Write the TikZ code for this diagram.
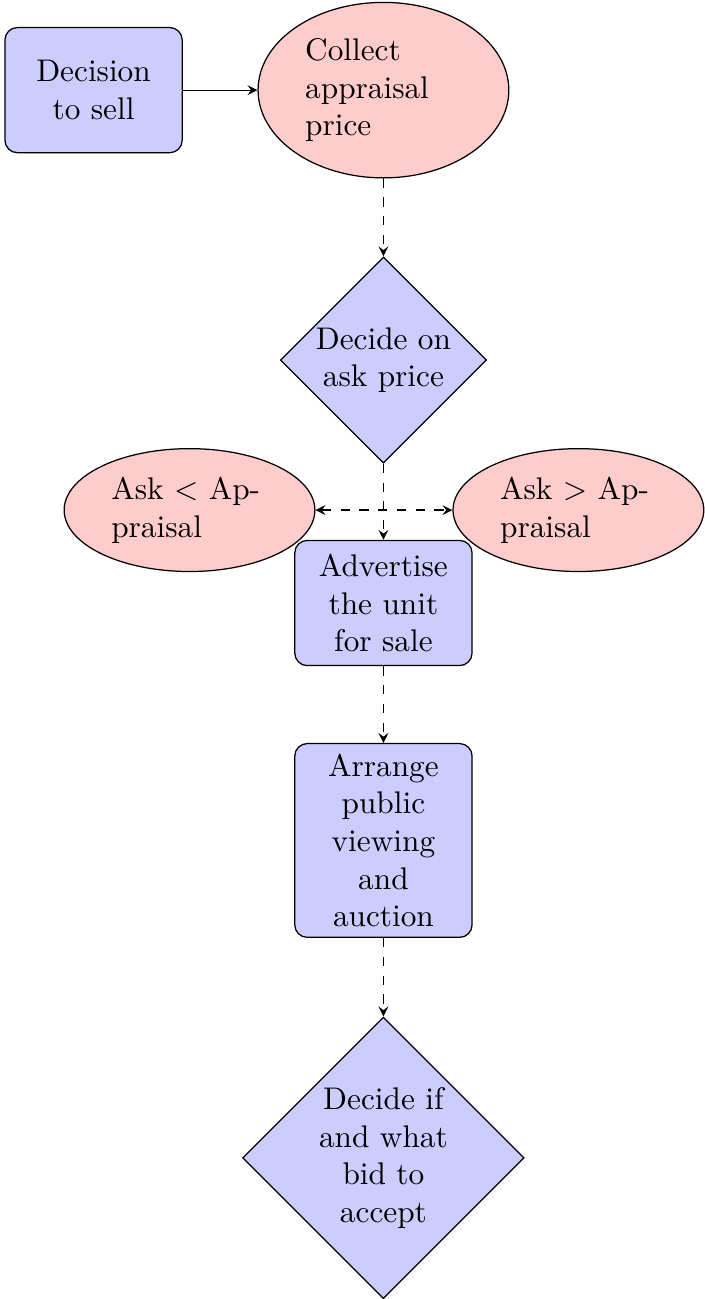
\documentclass[tikz,border=0pt]{standalone}
\usepackage{tikz}
\usetikzlibrary{shapes,arrows,positioning}
\usepackage{amsmath}
\usepackage{xcolor}
\tikzstyle{block} = [rectangle, draw, fill=blue!20,
    text width=5em, text centered, rounded corners, minimum height=4em]
\tikzstyle{cloud} = [ellipse, draw, fill=red!20, text width=5em, align=left]
\tikzstyle{decision} = [diamond, draw, fill=blue!20,
    text width=4.5em, text badly centered, inner sep=0pt]
\tikzstyle{arrow} = [->,>=stealth]
\tikzstyle{dasharrow} = [arrow, dashed]

\begin{document}
\begin{tikzpicture}[node distance = 2cm, auto]
    % Place nodes
    \node [block] (sell) {Decision to sell};
    \node [cloud, right of=sell, node distance=3.256cm] (appraise) {Collect appraisal price};
    \node [decision, below of=appraise, node distance=3.032cm] (askprice) {Decide on ask price};
    \node [block, below of=askprice, node distance=2.729cm] (advertise) {Advertise the unit for sale};
    \node [block, below of=advertise, node distance=2.667cm] (auction) {Arrange public viewing and auction};
    \node [decision, below of=auction, node distance=3.565cm] (acceptbid) {Decide if and what bid to accept};
    \node [cloud, on grid, below left=1.685cm and 2.178cm of askprice] (asklow) {Ask $<$ Ap-\\praisal};
    \node [cloud, on grid, below right=1.685cm and 2.19cm of askprice] (askhigh) {Ask $>$ Ap-\\praisal};
    % Draw edges
    \draw [arrow] (sell) -- (appraise);
    \draw [dasharrow] (appraise) -- (askprice);
    \draw [dasharrow, <->] (asklow) -- (askhigh);
    \draw [dasharrow] (askprice) -- (advertise);
    \draw [dasharrow] (advertise) -- (auction);
    \draw [dasharrow] (auction) -- (acceptbid);
    % Page size
    \useasboundingbox (sell.center) ++(-29.9pt,28.8pt) rectangle ++(225.2pt,-415pt);
\end{tikzpicture}
\end{document}
